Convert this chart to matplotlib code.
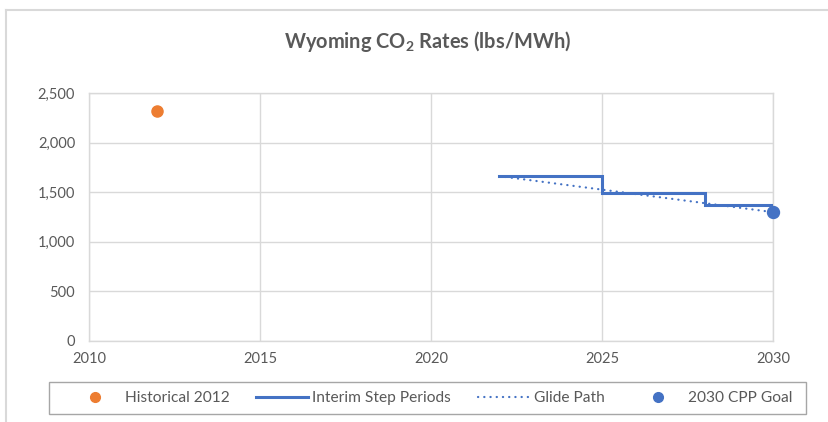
import matplotlib
matplotlib.use("Agg")
import matplotlib.pyplot as plt
from matplotlib.lines import Line2D
from matplotlib.patches import Rectangle

plt.rcParams['font.family'] = ['Lato', 'DejaVu Sans']
plt.rcParams['mathtext.fontset'] = 'custom'
plt.rcParams['mathtext.rm'] = 'Lato'
plt.rcParams['mathtext.bf'] = 'Lato:bold'

# Data
hist_year = [2012]
hist_value = [2320]
step_years = [2022, 2025, 2025, 2028, 2028, 2030]
step_values = [1662, 1662, 1492, 1492, 1375, 1375]
glide_years = [2022, 2030]
glide_values = [1662, 1299]
goal_year = [2030]
goal_value = [1299]
x_ticks = [2010, 2015, 2020, 2025, 2030]
y_ticks = [0, 500, 1000, 1500, 2000, 2500]

orange = '#ED7D31'
blue = '#4472C4'
txt = '#595959'
grid = '#D9D9D9'
dotted = (0, (0.1, 2.7))

W, H = 829, 422
fig = plt.figure(figsize=(W / 100, H / 100), dpi=100)
ax = fig.add_axes([89 / W, 1 - 341 / H, (773 - 89) / W, (341 - 93) / H])

ax.plot(step_years, step_values, color=blue, lw=2.2, solid_joinstyle='miter', zorder=3)
ax.plot(glide_years, glide_values, color=blue, lw=1.6, ls=dotted, dash_capstyle='round', zorder=3)
ax.plot(hist_year, hist_value, 'o', color=orange, ms=8, zorder=4, clip_on=False)
ax.plot(goal_year, goal_value, 'o', color=blue, ms=8.6, zorder=4, clip_on=False)

ax.set_xlim(2010, 2030)
ax.set_ylim(0, 2500)
ax.set_xticks(x_ticks)
ax.set_yticks(y_ticks)
ax.set_yticklabels([f'{v:,}' for v in y_ticks])
ax.grid(True, color=grid, lw=1)
ax.set_axisbelow(True)
for s in ax.spines.values():
    s.set_color(grid)
    s.set_linewidth(1)
ax.tick_params(length=0, labelsize=10.5, labelcolor=txt, pad=8)
ax.tick_params(axis='y', pad=10)

fig.text(428 / W, 1 - 42 / H, r'Wyoming CO$_\mathbf{2}$ Rates (lbs/MWh)', ha='center', va='center',
         fontsize=14.4, fontweight='bold', color=txt)

# outer frame (top and left edges visible)
fig.add_artist(Line2D([6 / W, 1], [1 - 10 / H, 1 - 10 / H], transform=fig.transFigure, color=grid, lw=1.5))
fig.add_artist(Line2D([6 / W, 6 / W], [0, 1 - 10 / H], transform=fig.transFigure, color=grid, lw=1.5))

# legend box
fig.add_artist(Rectangle((49 / W, 1 - 414 / H), (806 - 49) / W, (414 - 382) / H,
                         transform=fig.transFigure, fill=False, edgecolor='#A6A6A6', lw=1))

handles = [
    Line2D([], [], marker='o', ls='none', color=orange, ms=7),
    Line2D([], [], color=blue, lw=2.2),
    Line2D([], [], color=blue, lw=1.6, ls=dotted, dash_capstyle='round'),
    Line2D([], [], marker='o', ls='none', color=blue, ms=7),
]
labels = ['Historical 2012', 'Interim Step Periods', 'Glide Path', '2030 CPP Goal']
fs = 11.2
leg = fig.legend(handles, labels, loc='center', ncol=4,
                 bbox_to_anchor=(430.5 / W, 1 - 398 / H),
                 frameon=False, fontsize=fs,
                 handlelength=52 * 0.72 / fs, handletextpad=4 * 0.72 / fs,
                 columnspacing=27 * 0.72 / fs, borderaxespad=0, borderpad=0)
for t in leg.get_texts():
    t.set_color(txt)

fig.savefig('out.png', dpi=100)
